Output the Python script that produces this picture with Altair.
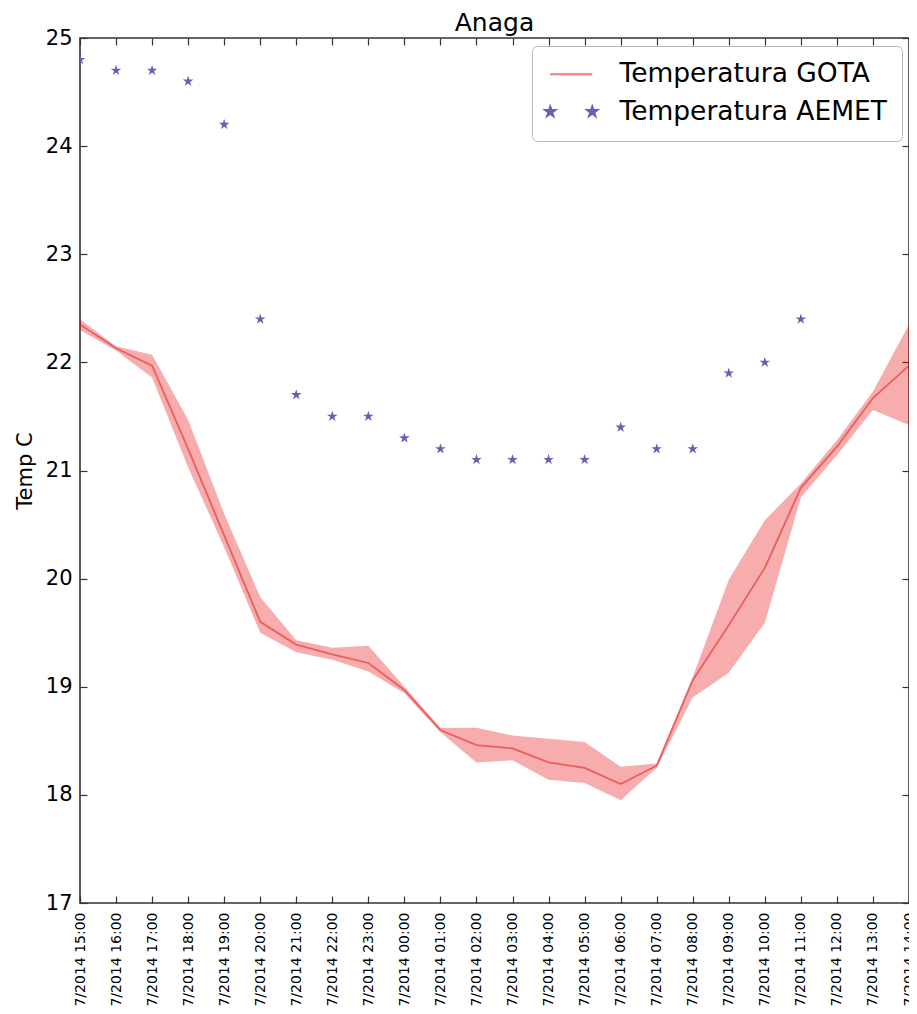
import math
import altair as alt
import pandas as pd

hours = ["15:00", "16:00", "17:00", "18:00", "19:00", "20:00", "21:00", "22:00",
         "23:00", "00:00", "01:00", "02:00", "03:00", "04:00", "05:00", "06:00",
         "07:00", "08:00", "09:00", "10:00", "11:00", "12:00", "13:00", "14:00"]
labels = ["7/2014 " + h for h in hours]

gota_mean = [22.35, 22.13, 21.97, 21.20, 20.40, 19.60, 19.39, 19.30, 19.22, 18.97,
             18.60, 18.46, 18.43, 18.30, 18.25, 18.10, 18.27, 19.06, 19.57, 20.10,
             20.84, 21.22, 21.67, 21.97]
gota_low = [22.30, 22.11, 21.86, 21.03, 20.29, 19.50, 19.32, 19.25, 19.14, 18.94,
            18.58, 18.30, 18.32, 18.14, 18.11, 17.95, 18.25, 18.90, 19.13, 19.59,
            20.75, 21.14, 21.56, 21.42]
gota_high = [22.40, 22.15, 22.07, 21.47, 20.60, 19.83, 19.43, 19.36, 19.38, 19.00,
             18.62, 18.62, 18.55, 18.52, 18.49, 18.26, 18.29, 19.09, 19.99, 20.54,
             20.88, 21.28, 21.73, 22.35]
aemet = [24.8, 24.7, 24.7, 24.6, 24.2, 22.4, 21.7, 21.5, 21.5, 21.3, 21.2, 21.1,
         21.1, 21.1, 21.1, 21.4, 21.2, 21.2, 21.9, 22.0, 22.4, None, None, None]
series = ["Temperatura GOTA", "Temperatura AEMET"]
y_ticks = [17, 18, 19, 20, 21, 22, 23, 24, 25]

gota_df = pd.DataFrame({"label": labels, "mean": gota_mean, "low": gota_low, "high": gota_high})
aemet_df = pd.DataFrame({"label": labels, "value": aemet}).dropna()
legend_df = pd.DataFrame({"series": series})

FONT = "DejaVu Sans"


def star(cx, ro):
    ri = ro * 0.382
    pts = []
    for i in range(10):
        r = ro if i % 2 == 0 else ri
        a = -math.pi / 2 + i * math.pi / 5
        pts.append((cx + r * math.cos(a), r * math.sin(a)))
    return "M" + "L".join(f"{x:.3f},{y:.3f}" for x, y in pts) + "Z"


star_path = star(0, 0.8)
two_stars = star(-3, 0.8) + star(3, 0.8)
line_path = "M-3,0L3,0"

xscale = alt.Scale(domain=labels, type="point", padding=0)
yscale = alt.Scale(domain=[17, 25], nice=False, zero=False)

x_bottom = alt.Axis(orient="bottom", labelAngle=-90, labelFontSize=14, labelFont=FONT,
                    labelColor="black", tickSize=7, offset=-7, domain=False, labelPadding=9,
                    title=None, tickColor="#333", tickWidth=1.2, labelOverlap=False, grid=False)
y_left = alt.Axis(orient="left", values=y_ticks, labelFontSize=21, labelFont=FONT,
                  labelColor="black", tickSize=7, offset=-7, domain=False, labelPadding=8,
                  title="Temp C", titleFont=FONT, titleFontSize=21, titleFontWeight="normal",
                  titleColor="black", titlePadding=10, tickColor="#333", tickWidth=1.2, grid=False)
x_top = alt.Axis(orient="top", labels=False, tickSize=7, offset=-7, domain=False, title=None,
                 tickColor="#333", tickWidth=1.2, grid=False)
y_right = alt.Axis(orient="right", values=y_ticks, labels=False, tickSize=7, offset=-7,
                   domain=False, title=None, tickColor="#333", tickWidth=1.2, grid=False)

band = alt.Chart(gota_df).mark_area(color="#e60000", opacity=0.32, clip=True).encode(
    x=alt.X("label:O", scale=xscale, axis=x_bottom),
    y=alt.Y("low:Q", scale=yscale, axis=y_left),
    y2="high:Q",
)

line = alt.Chart(gota_df).mark_line(color="#e01010", opacity=0.5, strokeWidth=1.8, clip=True).encode(
    x=alt.X("label:O", scale=xscale, axis=None),
    y=alt.Y("mean:Q", scale=yscale, axis=None),
)

points = alt.Chart(aemet_df).mark_point(filled=True, shape=star_path, size=196, color="#6363b0",
                                        opacity=1, clip=True).encode(
    x=alt.X("label:O", scale=xscale, axis=x_top),
    y=alt.Y("value:Q", scale=yscale, axis=y_right),
)

legend_layer = alt.Chart(legend_df).mark_point(opacity=0, strokeWidth=1.8).encode(
    fill=alt.Fill("series:N", scale=alt.Scale(domain=series, range=["#f07878", "#6363b0"]),
                  legend=alt.Legend(title=None)),
    stroke=alt.Stroke("series:N", scale=alt.Scale(domain=series, range=["#f07878", "#6363b0"]),
                      legend=alt.Legend(title=None)),
    shape=alt.Shape("series:N", scale=alt.Scale(domain=series, range=[line_path, two_stars]),
                    legend=alt.Legend(title=None)),
)

chart = alt.layer(band, line, points, legend_layer).resolve_scale(
    x="independent", y="independent"
).properties(
    width=829,
    height=865,
    padding={"left": 72, "top": 30, "right": 0, "bottom": 103},
    autosize=alt.AutoSizeParams(type="none"),
    title=alt.TitleParams("Anaga", fontSize=25, font=FONT, fontWeight="normal", color="black",
                          offset=4, dy=13, anchor="middle"),
).configure_view(
    stroke="#333", strokeWidth=1.6
).configure_legend(
    orient="none", legendX=452, legendY=8, padding=15, strokeColor="#b8b8b8",
    cornerRadius=5, fillColor="white", labelFont=FONT, labelFontSize=26.5, labelColor="black",
    labelLimit=500, symbolSize=196, symbolOffset=11, labelOffset=35, rowPadding=10.5,
    symbolStrokeWidth=1.8, symbolOpacity=1,
)

chart.save("out.html", embed_options={"renderer": "svg", "actions": False})
